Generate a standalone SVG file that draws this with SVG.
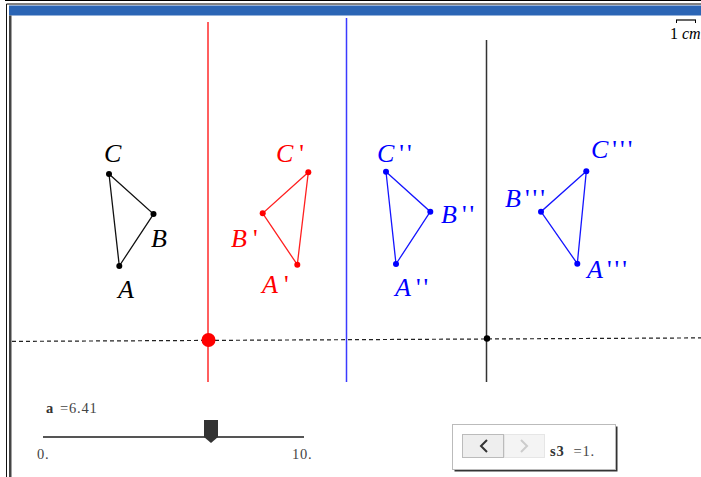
<svg xmlns="http://www.w3.org/2000/svg" width="701" height="477" viewBox="0 0 701 477">
<defs>
<style>
.lbl{font-family:"Liberation Serif","Times New Roman",serif;font-style:italic;font-size:26px}
.p{font-style:normal;letter-spacing:3px}
.k{fill:#000}.r{fill:#ff0000}.b{fill:#0000ff}
.tri{fill:none;stroke-width:1.3}
.ui{font-family:"Liberation Serif","Times New Roman",serif;font-size:14.5px;fill:#444;letter-spacing:0.8px}
</style>
</defs>
<rect width="701" height="477" fill="#fff"/>
<g id="frame">
<line x1="5" y1="0.5" x2="701" y2="0.5" stroke="#000" stroke-width="1"/>
<line x1="6.5" y1="4" x2="701" y2="4" stroke="#000" stroke-width="1"/>
<line x1="6.5" y1="4" x2="6.5" y2="477" stroke="#111" stroke-width="1"/>
<rect x="9" y="5.5" width="692" height="10" fill="#2b65b5"/>
<rect x="9" y="15.5" width="2.5" height="461.5" fill="#444"/>
</g>
<g id="scale">
<line x1="676" y1="20" x2="696" y2="20" stroke="#000" stroke-width="1.2"/>
<line x1="676.5" y1="20" x2="676.5" y2="23" stroke="#000"/>
<line x1="695.5" y1="20" x2="695.5" y2="23" stroke="#000"/>
<text x="670" y="39" font-family="Liberation Serif, serif" font-size="16" fill="#000">1</text>
<text x="682" y="39" font-family="Liberation Serif, serif" font-style="italic" font-size="16" fill="#000">cm</text>
</g>
<g id="connectors">
<line id="dashed-axis" x1="12" y1="341.4" x2="701" y2="337.9" stroke="#222" stroke-width="1.2" stroke-dasharray="4 3"/>
<line id="red-mirror" x1="208" y1="22" x2="208" y2="382" stroke="#ff2a2a" stroke-width="1.5"/>
<line id="blue-mirror" x1="346.5" y1="18" x2="346.5" y2="382" stroke="#3a3aff" stroke-width="1.5"/>
<line id="black-mirror" x1="486.5" y1="40" x2="486.5" y2="382" stroke="#333" stroke-width="1.5"/>
<polygon class="tri" stroke="#111" points="109,174 153.5,214 119.3,266"/>
<polygon class="tri" stroke="#ff2020" points="308.3,172.3 262.7,213.3 297.3,264.7"/>
<polygon class="tri" stroke="#1515ff" points="386,171.7 430.3,211.7 396,264"/>
<polygon class="tri" stroke="#1515ff" points="586.3,171.3 541,211.7 577.3,263.7"/>
</g>
<g id="red-point"><circle cx="208.5" cy="340" r="7" fill="#ff0000"/></g>
<g id="black-point"><circle cx="487" cy="338.5" r="3.2" fill="#000"/></g>
<g id="triangle-ABC">
<circle cx="109" cy="174" r="3" class="k"/><circle cx="153.5" cy="214" r="3" class="k"/><circle cx="119.3" cy="266" r="3" class="k"/>
<text class="lbl k" x="104" y="162">C</text>
<text class="lbl k" x="151" y="247">B</text>
<text class="lbl k" x="118" y="298">A</text>
</g>
<g id="triangle-ABC1">
<circle cx="308.3" cy="172.3" r="3" class="r"/><circle cx="262.7" cy="213.3" r="3" class="r"/><circle cx="297.3" cy="264.7" r="3" class="r"/>
<text class="lbl r" x="276" y="162">C<tspan class="p" dx="6">'</tspan></text>
<text class="lbl r" x="231" y="247">B<tspan class="p" dx="6">'</tspan></text>
<text class="lbl r" x="262" y="293">A<tspan class="p" dx="6">'</tspan></text>
</g>
<g id="triangle-ABC2">
<circle cx="386" cy="171.7" r="3" class="b"/><circle cx="430.3" cy="211.7" r="3" class="b"/><circle cx="396" cy="264" r="3" class="b"/>
<text class="lbl b" x="377" y="162">C<tspan class="p" dx="5">''</tspan></text>
<text class="lbl b" x="441" y="223">B<tspan class="p" dx="5">''</tspan></text>
<text class="lbl b" x="395" y="296">A<tspan class="p" dx="5">''</tspan></text>
</g>
<g id="triangle-ABC3">
<circle cx="586.3" cy="171.3" r="3" class="b"/><circle cx="541" cy="211.7" r="3" class="b"/><circle cx="577.3" cy="263.7" r="3" class="b"/>
<text class="lbl b" x="505" y="207">B<tspan class="p" dx="4">'''</tspan></text>
<text class="lbl b" x="591" y="158">C<tspan class="p" dx="4">'''</tspan></text>
<text class="lbl b" x="587" y="278">A<tspan class="p" dx="4">'''</tspan></text>
</g>
<g id="slider">
<text class="ui" x="46" y="413"><tspan font-weight="bold" fill="#333">a</tspan><tspan dx="6">=6.41</tspan></text>
<line x1="43" y1="437" x2="304" y2="437" stroke="#555" stroke-width="2"/>
<path d="M204,420 H218 V437 L211,443 L204,437 Z" fill="#333"/>
<text class="ui" x="37" y="459">0.</text>
<text class="ui" x="292" y="459">10.</text>
</g>
<g id="stepper">
<rect x="454.5" y="426.5" width="163" height="45" fill="#333"/>
<rect x="452.5" y="424.5" width="163" height="45" fill="#fff" stroke="#bbb" stroke-width="1"/>
<rect x="462.5" y="434.5" width="41" height="23" fill="#eee" stroke="#bbb" stroke-width="1"/>
<path d="M487,440 L481,446 L487,452" fill="none" stroke="#333" stroke-width="2"/>
<rect x="504.5" y="434.5" width="40" height="23" fill="#f4f4f4" stroke="#e6e6e6" stroke-width="1"/>
<path d="M521,440 L527,446 L521,452" fill="none" stroke="#ccc" stroke-width="2"/>
<text class="ui" x="550" y="456"><tspan font-weight="bold" fill="#333">s3</tspan><tspan dx="9">=1.</tspan></text>
</g>
</svg>
